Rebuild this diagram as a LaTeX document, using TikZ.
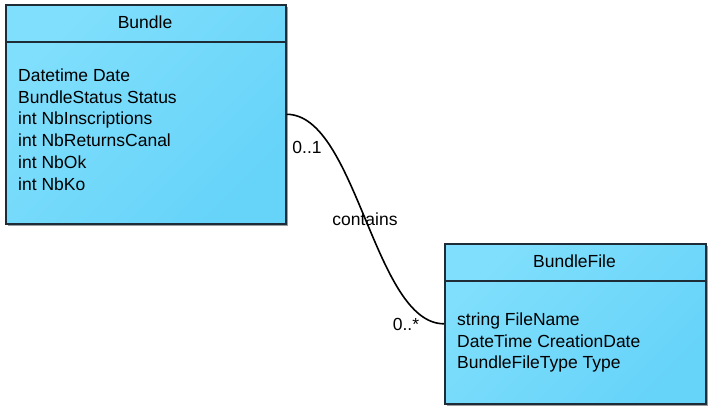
\documentclass[tikz,border=0pt]{standalone}
\usepackage{fontspec}
\setmainfont{Liberation Sans}
\usetikzlibrary{shadows,calc}
\definecolor{boxfill}{HTML}{80DFFC}
\definecolor{boxfillB}{HTML}{66D3F9}
\definecolor{boxline}{HTML}{1E2C38}
\tikzset{
  classbox/.style={draw=boxline, line width=1.6pt, left color=boxfill, right color=boxfillB, shading angle=45,
    drop shadow={shadow xshift=2pt, shadow yshift=-2pt, fill=black!55, opacity=0.7},
    anchor=north west, inner sep=0pt},
  divider/.style={draw=boxline, line width=1.6pt},
  title/.style={font=\fontsize{17.5}{21}\selectfont, anchor=center, inner sep=0pt},
  attrs/.style={font=\fontsize{17.5}{21.8}\selectfont, align=left, anchor=north west, inner sep=0pt},
  mult/.style={font=\fontsize{17.5}{21}\selectfont, inner sep=0pt},
  conn/.style={line width=1.6pt, draw=black}
}
\begin{document}
\begin{tikzpicture}[x=1pt,y=-1pt]
\useasboundingbox (0,0) rectangle (712,409);
% Bundle
\node[classbox, minimum width=280pt, minimum height=219pt] (bundle) at (5,4) {};
\coordinate (bdl) at (5,42);
\coordinate (bdr) at (285,42);
\draw[divider] (bdl) -- (bdr);
\node[title] (bundletitle) at (145,22) {Bundle};
\node[attrs] (bundleattrs) at (18,68.5) {Datetime Date\\BundleStatus Status\\int NbInscriptions\\int NbReturnsCanal\\int NbOk\\int NbKo};
% BundleFile
\node[classbox, minimum width=261pt, minimum height=160pt] (bf) at (444,243) {};
\coordinate (fdl) at (444,281);
\coordinate (fdr) at (705,281);
\draw[divider] (fdl) -- (fdr);
\node[title] (bftitle) at (574.5,261) {BundleFile};
\node[attrs] (bfattrs) at (457,312.5) {string FileName\\DateTime CreationDate\\BundleFileType Type};
% connector
\draw[conn] (bundle.east) .. controls +(70,0) and +(-70,0) .. (bf.west);
\node[mult] (m1) at (307,147) {0..1};
\node[mult] (lab) at (365,219) {contains};
\node[mult] (m2) at (406,324) {0..*};
\end{tikzpicture}
\end{document}
